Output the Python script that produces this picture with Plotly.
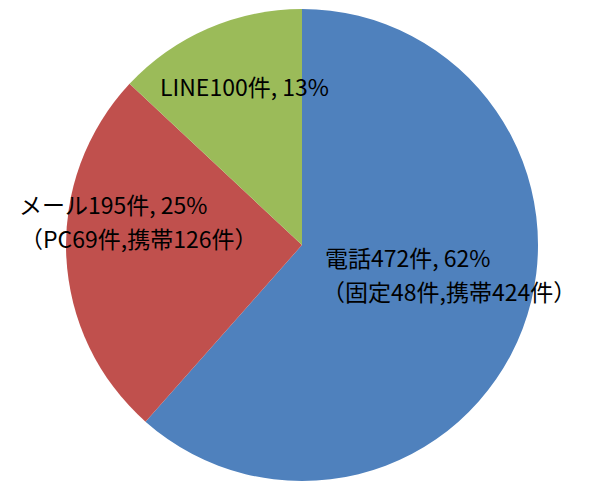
import plotly.graph_objects as go

categories = ["電話", "メール", "LINE"]
values = [472, 195, 100]
label_lines = [
    ["電話472件, 62%", "（固定48件,携帯424件）"],
    ["メール195件, 25%", "（PC69件,携帯126件）"],
    ["LINE100件, 13%"],
]
colors = ["#4F81BD", "#C0504D", "#9BBB59"]

W, H = 591, 486
fig = go.Figure(go.Pie(
    labels=categories, values=values, sort=False, direction="clockwise",
    rotation=0, textinfo="none", hoverinfo="label+value+percent",
    marker=dict(colors=colors, line=dict(width=0)),
    domain=dict(x=[58/W, 530/W], y=[13/H, 485/H]),
    showlegend=False,
))

# per-line label anchor positions (left x px, center y px)
line_pos = [
    [(315, 249), (312, 283)],
    [(9, 196), (10, 230)],
    [(150, 78)],
]
for lines, poss in zip(label_lines, line_pos):
    for t, (x, y) in zip(lines, poss):
        fig.add_annotation(x=x/W, y=1-y/H, xref="paper", yref="paper",
                           text=t, showarrow=False, xanchor="left", yanchor="middle",
                           align="left",
                           font=dict(family="Noto Sans CJK JP, sans-serif", size=23, color="black"))

fig.update_layout(width=W, height=H, margin=dict(l=0, r=0, t=0, b=0),
                  paper_bgcolor="white", plot_bgcolor="white")
fig.write_html("out.html")
